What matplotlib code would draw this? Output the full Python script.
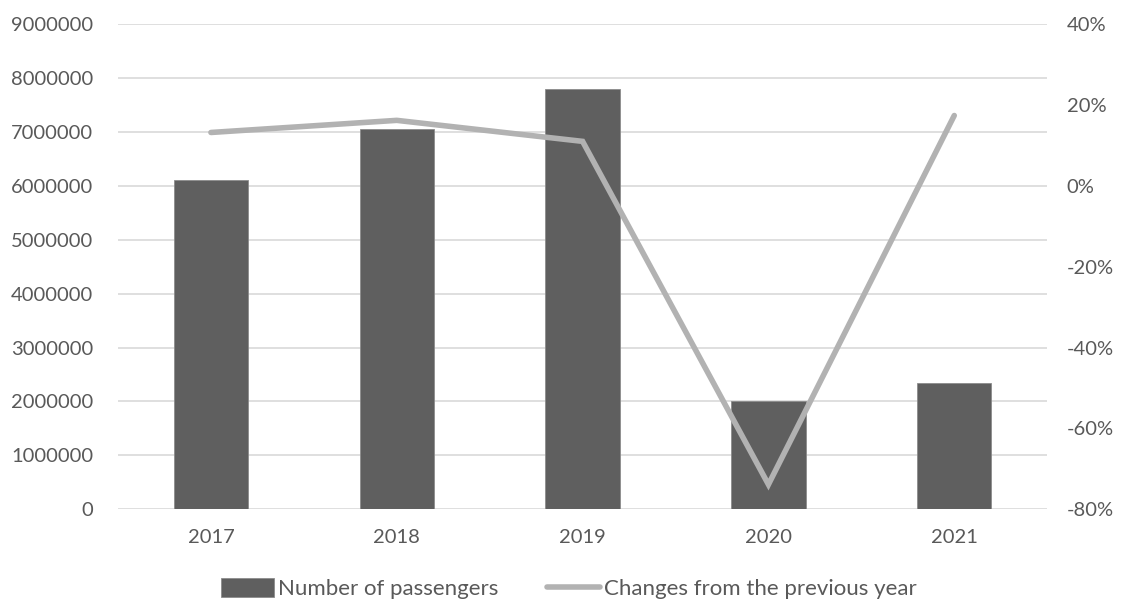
import matplotlib.pyplot as plt
from matplotlib.ticker import FuncFormatter

# données
years = ["2017", "2018", "2019", "2020", "2021"]
passengers = [6100000, 7050000, 7790000, 2010000, 2350000]
changes = [13.2, 16.2, 11.0, -73.9, 17.4]

plt.rcParams['font.family'] = ['Lato', 'DejaVu Sans']
txt = '#595959'

fig = plt.figure(figsize=(11.26, 6.04), dpi=100)
ax = fig.add_axes([0.1048, 0.157, 0.8252, 0.803])
x = range(len(years))

# barres
bars = ax.bar(x, passengers, width=0.4, color='#5F5F5F', edgecolor='#8C8C8C',
              linewidth=0.6, zorder=2, label='Number of passengers')
ax.set_ylim(0, 9000000)
ax.set_yticks(range(0, 9000001, 1000000))
ax.yaxis.set_major_formatter(FuncFormatter(lambda v, p: f"{int(v)}"))
ax.set_xlim(-0.5, 4.5)
ax.set_xticks(list(x))
ax.set_xticklabels(years)
ax.grid(axis='y', color='#D9D9D9', linewidth=1.2, zorder=0)
ax.set_axisbelow(True)
for s in ax.spines.values():
    s.set_visible(False)
ax.tick_params(length=0, labelsize=14.5, colors=txt, pad=14)
ax.tick_params(axis='y', pad=18)

# courbe sur l'axe secondaire
ax2 = ax.twinx()
line, = ax2.plot(x, changes, color='#B2B2B2', linewidth=4, solid_capstyle='round',
                 solid_joinstyle='miter', zorder=3, label='Changes from the previous year')
ax2.set_ylim(-80, 40)
ax2.set_yticks(range(-80, 41, 20))
ax2.yaxis.set_major_formatter(FuncFormatter(lambda v, p: f"{int(v)}%"))
for s in ax2.spines.values():
    s.set_visible(False)
ax2.tick_params(length=0, labelsize=14.5, colors=txt, pad=14)

fig.legend(handles=[bars, line], loc='lower center', bbox_to_anchor=(0.505, -0.025),
           ncol=2, frameon=False, fontsize=16, labelcolor=txt, handlelength=2.4,
           handleheight=0.9, columnspacing=2.2, handletextpad=0.15)

fig.savefig("out.png", dpi=100, facecolor='white')
